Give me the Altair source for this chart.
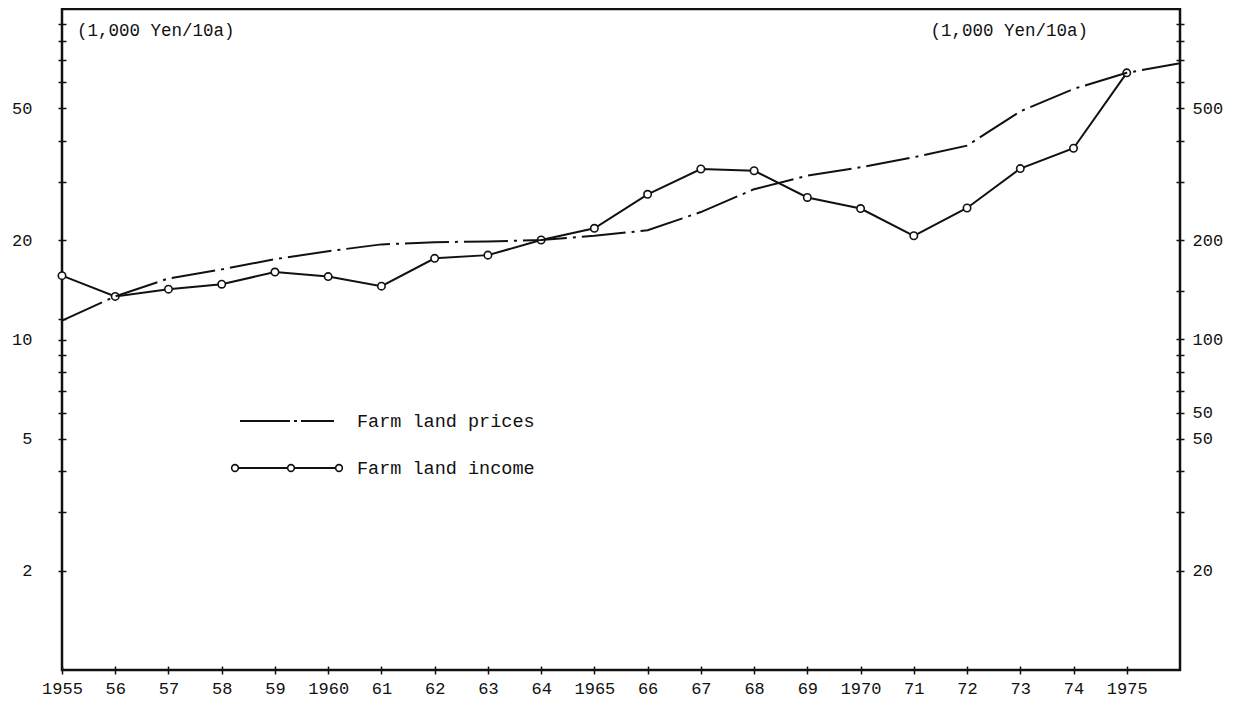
import json
import altair as alt
import pandas as pd

# ---------------- data ----------------
years = list(range(1955, 1976))
income = [15.6, 13.5, 14.2, 14.7, 16.0, 15.5, 14.5, 17.6, 18.0, 20.0, 21.7,
          27.5, 32.8, 32.4, 26.9, 24.9, 20.6, 25.0, 32.9, 37.9, 64.1]
price_years = list(range(1955, 1977))
prices = [114, 135, 153, 163, 175, 185, 194, 197, 198, 200, 206,
          214, 243, 285, 313, 332, 356, 386, 490, 573, 641, 685]

x_tick_labels = ["1955", "56", "57", "58", "59", "1960", "61", "62", "63", "64",
                 "1965", "66", "67", "68", "69", "1970", "71", "72", "73", "74", "1975"]
left_ticks = [2, 3, 4, 5, 6, 7, 8, 9, 10, 11.5, 20, 30, 40, 50, 60, 70, 80, 90]
left_label_values = [2, 5, 10, 20, 50]
right_ticks = [20, 30, 40, 50, 60, 70, 80, 90, 100, 140, 200, 300, 400, 500, 600, 700, 800, 900]
right_label_values = [20, 50, 60, 100, 200, 500]
right_label_texts = ["20", "50", "50", "100", "200", "500"]
unit_label = "(1,000 Yen/10a)"
series_names = ["Farm land prices", "Farm land income"]

INK = "#111111"
FONT = "Liberation Mono"

df_income = pd.DataFrame({"year": years, "income": income})
df_prices = pd.DataFrame({"year": price_years, "price": prices})
one = pd.DataFrame({"k": [0]})

x_enc = alt.X(
    "year:Q",
    scale=alt.Scale(domain=[1955, 1976], nice=False, zero=False),
    axis=alt.Axis(
        values=years,
        labelExpr=f"{json.dumps(x_tick_labels)}[datum.value - 1955]",
        labelOverlap=False, labelFlush=False,
        domain=False, grid=False, title=None, offset=-4,
        tickSize=8, tickWidth=1.5, tickColor=INK,
        labelFont=FONT, labelFontSize=17, labelColor=INK, labelPadding=6,
    ),
)

axis_common = dict(domain=False, grid=False, title=None, offset=-4,
                   tickSize=8, tickWidth=1.5, tickColor=INK,
                   labelOverlap=False, labelFlush=False,
                   labelFont=FONT, labelFontSize=17, labelColor=INK)

left_expr = f"indexof({json.dumps(left_label_values)}, datum.value) >= 0 ? format(datum.value, 'd') : ''"
right_expr = (f"indexof({json.dumps(right_label_values)}, datum.value) >= 0 ? "
              f"{json.dumps(right_label_texts)}[indexof({json.dumps(right_label_values)}, datum.value)] : ''")

income_line = alt.Chart(df_income).mark_line(color=INK, strokeWidth=2).encode(
    x=x_enc,
    y=alt.Y("income:Q",
            scale=alt.Scale(type="log", domain=[1, 100], nice=False),
            axis=alt.Axis(orient="left", values=left_ticks, labelExpr=left_expr,
                          labelPadding=26, **axis_common)),
)
income_pts = alt.Chart(df_income).mark_point(
    shape="circle", filled=True, fill="white", stroke=INK, strokeWidth=1.6,
    size=55, opacity=1,
).encode(x="year:Q", y="income:Q")

income_layer = alt.layer(income_line, income_pts)

price_line = alt.Chart(df_prices).mark_line(
    color=INK, strokeWidth=2, strokeDash=[44, 6, 3, 6]
).encode(
    x="year:Q",
    y=alt.Y("price:Q",
            scale=alt.Scale(type="log", domain=[10, 1000], nice=False),
            axis=alt.Axis(orient="right", values=right_ticks, labelExpr=right_expr,
                          labelPadding=8, **axis_common)),
)

# ---------------- legend (drawn by hand like the original) ----------------
leg_price_rule = alt.Chart(one).mark_rule(
    color=INK, strokeWidth=2, strokeDash=[50, 4, 3, 4]
).encode(x=alt.value(178), x2=alt.value(272), y=alt.value(412))
leg_price_text = alt.Chart(one).mark_text(
    text=series_names[0], align="left", baseline="middle",
    font=FONT, fontSize=18.5, color=INK
).encode(x=alt.value(295), y=alt.value(412))

leg_inc_rule = alt.Chart(one).mark_rule(color=INK, strokeWidth=2).encode(
    x=alt.value(173), x2=alt.value(277), y=alt.value(459))
leg_inc_pts = [
    alt.Chart(one).mark_point(shape="circle", filled=True, fill="white", stroke=INK,
                              strokeWidth=1.6, size=45, opacity=1)
    .encode(x=alt.value(px), y=alt.value(459))
    for px in (173, 229, 277)
]
leg_inc_text = alt.Chart(one).mark_text(
    text=series_names[1], align="left", baseline="middle",
    font=FONT, fontSize=18.5, color=INK
).encode(x=alt.value(295), y=alt.value(459))

unit_left = alt.Chart(one).mark_text(
    text=unit_label, align="left", baseline="middle",
    font=FONT, fontSize=17.5, color=INK
).encode(x=alt.value(15), y=alt.value(22))
unit_right = alt.Chart(one).mark_text(
    text=unit_label, align="right", baseline="middle",
    font=FONT, fontSize=17.5, color=INK
).encode(x=alt.value(1026), y=alt.value(22))

chart = alt.layer(
    income_layer, price_line,
    leg_price_rule, leg_price_text, leg_inc_rule, *leg_inc_pts, leg_inc_text,
    unit_left, unit_right,
).resolve_scale(y="independent").properties(
    width=1118, height=661,
    autosize=alt.AutoSizeParams(type="none"),
    padding={"left": 54, "top": 1, "right": 46, "bottom": 30},
    background="white",
).configure_view(stroke=INK, strokeWidth=2.5)

chart.save("out.html", embed_options={"renderer": "svg", "actions": False})
